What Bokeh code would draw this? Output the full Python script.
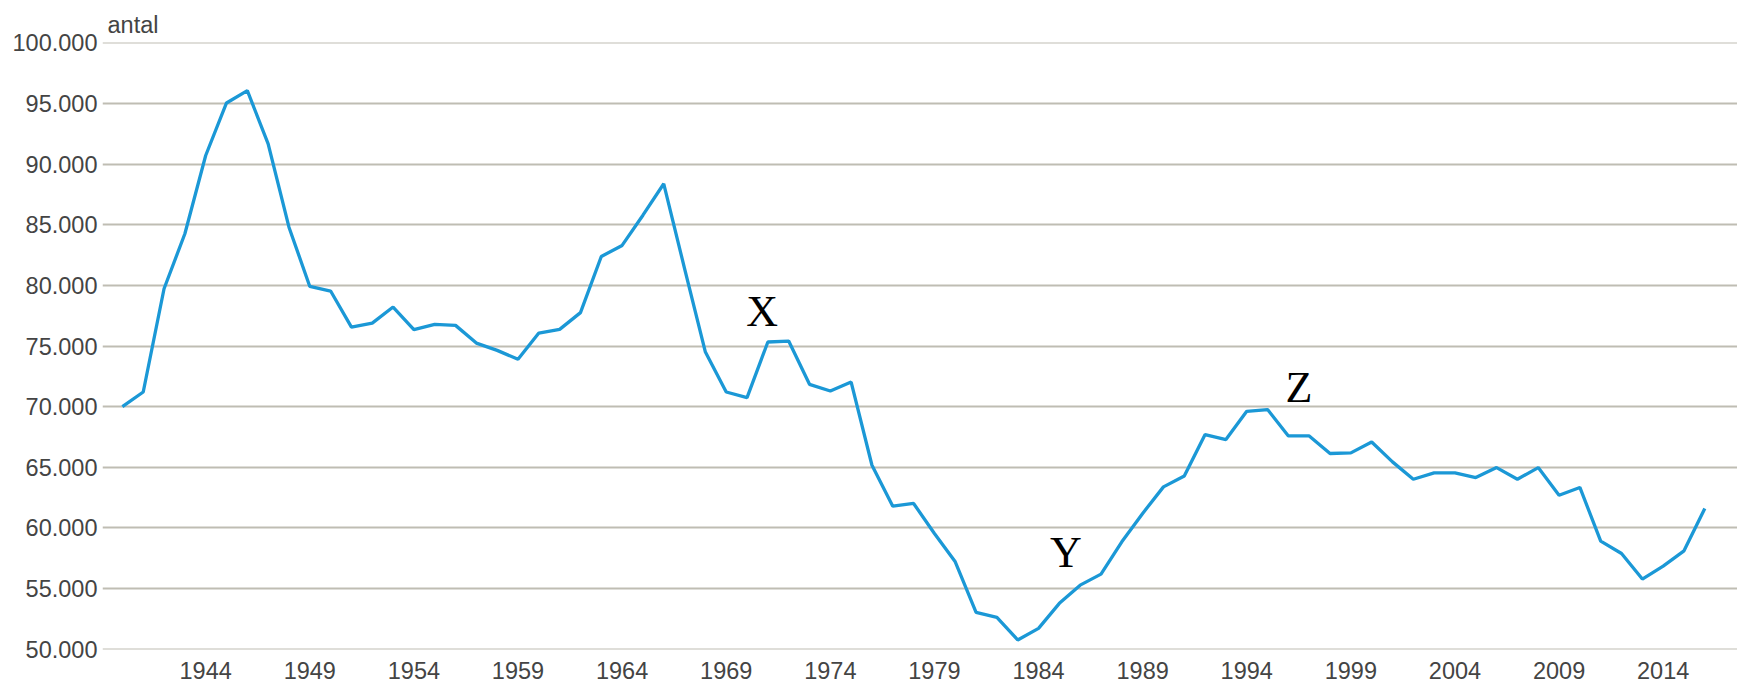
from bokeh.plotting import figure
from bokeh.models import Range1d, FixedTicker, Label
from bokeh.embed import file_html
from bokeh.resources import INLINE

# Data: live births per year (antal)
years = list(range(1940, 2017))
births = [70000, 71210, 79720, 84250, 90700, 95030, 96050, 91660, 84790, 79910,
          79530, 76560, 76890, 78210, 76350, 76780, 76700, 75240, 74640, 73900,
          76070, 76370, 77750, 82380, 83290, 85780, 88370, 81380, 74500, 71210,
          70750, 75330, 75410, 71840, 71290, 72030, 65170, 61800, 62020, 59550,
          57210, 53050, 52640, 50770, 51730, 53790, 55290, 56200, 58860, 61200,
          63390, 64290, 67700, 67290, 69620, 69760, 67590, 67590, 66140, 66190,
          67090, 65450, 64020, 64540, 64540, 64160, 64980, 64020, 64980, 62700,
          63340, 58920, 57900, 55790, 56860, 58120, 61610]

y_ticks = [50000, 55000, 60000, 65000, 70000, 75000, 80000, 85000, 90000, 95000, 100000]
y_tick_labels = ["50.000", "55.000", "60.000", "65.000", "70.000", "75.000",
                 "80.000", "85.000", "90.000", "95.000", "100.000"]
x_ticks = [1944, 1949, 1954, 1959, 1964, 1969, 1974, 1979, 1984, 1989, 1994, 1999, 2004, 2009, 2014]
x_tick_labels = [str(t) for t in x_ticks]

y_title = "antal"
marks = ["X", "Y", "Z"]
mark_years = [1970.72, 1985.31, 1996.51]
mark_values = [77850, 57970, 71620]

X0, X1 = 1939.044, 2017.57

p = figure(width=1737, height=688, output_backend="svg", toolbar_location=None,
           x_range=Range1d(X0, X1), y_range=Range1d(49985, 100015),
           min_border_left=102, min_border_right=0, min_border_top=42, min_border_bottom=39)
p.outline_line_color = None
p.background_fill_color = "white"
p.border_fill_color = "white"

p.line(years, births, line_color="#1b98d6", line_width=3.3)

# title used as the y-axis caption "antal"
p.title.text = y_title
p.title.align = "left"
p.title.offset = 5
p.title.standoff = 9
p.title.text_font = "Liberation Sans"
p.title.text_font_size = "23.5px"
p.title.text_font_style = "normal"
p.title.text_color = "#444444"

# axes
p.yaxis.ticker = FixedTicker(ticks=y_ticks)
p.yaxis.major_label_overrides = {t: l for t, l in zip(y_ticks, y_tick_labels)}
p.xaxis.ticker = FixedTicker(ticks=x_ticks)
p.xaxis.major_label_overrides = {t: l for t, l in zip(x_ticks, x_tick_labels)}
for ax in (p.xaxis, p.yaxis):
    ax.axis_line_color = None
    ax.major_tick_line_color = None
    ax.minor_tick_line_color = None
    ax.major_tick_out = 0
    ax.major_tick_in = 0
    ax.minor_tick_out = 0
    ax.major_label_text_font = "Liberation Sans"
    ax.major_label_text_font_size = "23.5px"
    ax.major_label_text_color = "#444444"
p.yaxis.major_label_standoff = 5
p.xaxis.major_label_standoff = 12

p.xgrid.grid_line_color = None
p.ygrid.ticker = FixedTicker(ticks=y_ticks)
p.ygrid.grid_line_color = "#bfbdb3"
p.ygrid.grid_line_width = 2

for m, mx, my in zip(marks, mark_years, mark_values):
    p.add_layout(Label(x=mx, y=my, text=m, text_font="Liberation Serif",
                       text_font_size="44px", text_color="black",
                       text_align="center", text_baseline="middle"))

open("out.html", "w").write(file_html(p, INLINE))
